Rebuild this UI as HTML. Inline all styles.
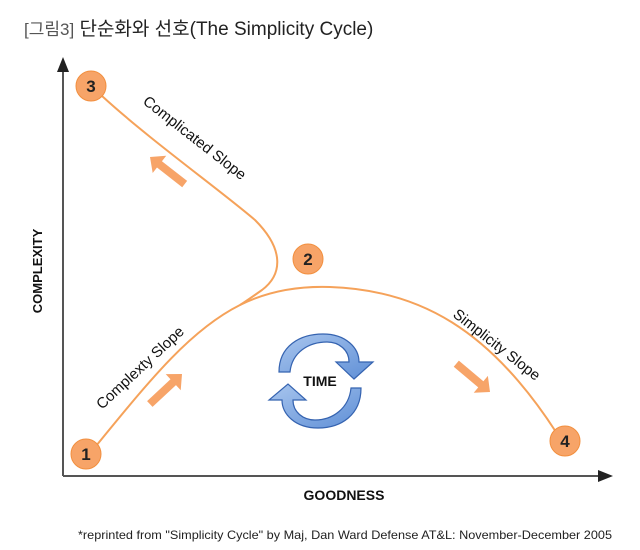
<!DOCTYPE html>
<html><head><meta charset="utf-8"><style>
html,body{margin:0;padding:0;background:#fff;}
svg{display:block;}
text{font-family:"Liberation Sans","Noto Sans CJK KR",sans-serif;}
</style></head><body>
<svg width="640" height="550" viewBox="0 0 640 550" xmlns="http://www.w3.org/2000/svg">
<defs>
<linearGradient id="bg" x1="0" y1="0" x2="1" y2="1">
<stop offset="0" stop-color="#a9c6ee"/><stop offset="1" stop-color="#5f8fd6"/>
</linearGradient>
</defs>
<text x="24" y="35" font-size="19" fill="#222"><tspan fill="#555" font-size="17">[그림3]</tspan> 단순화와 선호(The Simplicity Cycle)</text>
<line x1="63" y1="68" x2="63" y2="476" stroke="#555" stroke-width="2"/>
<polygon points="63,57 57,72 69,72" fill="#222"/>
<line x1="63" y1="476" x2="600" y2="476" stroke="#555" stroke-width="2"/>
<polygon points="613,476 598,470 598,482" fill="#222"/>
<text x="42" y="271" font-size="13" font-weight="bold" fill="#111" text-anchor="middle" transform="rotate(-90 42 271)">COMPLEXITY</text>
<text x="344" y="500" font-size="14" font-weight="bold" fill="#111" text-anchor="middle">GOODNESS</text>
<text x="345" y="539" font-size="12" fill="#222" text-anchor="middle" textLength="534" lengthAdjust="spacingAndGlyphs">*reprinted from "Simplicity Cycle" by Maj, Dan Ward Defense AT&amp;L: November-December 2005</text>
<g fill="none" stroke="#f5a25a" stroke-width="2">
<path d="M96,446 C150,380 190,330 240,305 C270,290 300,286 330,287 C420,290 490,330 556,432"/>
<path d="M102,96 C150,140 220,190 255,220 C285,250 282,275 262,290 C252,297 245,302 240,305"/>
</g>
<g fill="#f7a468">
<g transform="translate(150,157) rotate(38)"><polygon points="0,0 12,-11 12,-4 44,-4 44,4 12,4 12,11"/></g>
<g transform="translate(182,374) rotate(137)"><polygon points="0,0 12,-11 12,-4 44,-4 44,4 12,4 12,11"/></g>
<g transform="translate(490,392) rotate(220)"><polygon points="0,0 12,-11 12,-4 44,-4 44,4 12,4 12,11"/></g>
</g>
<text x="142" y="103" font-size="15" fill="#111" transform="rotate(38 142 103)">Complicated Slope</text>
<text x="102" y="410" font-size="15" fill="#111" transform="rotate(-43 102 410)">Complexty Slope</text>
<text x="452" y="316" font-size="15" fill="#111" transform="rotate(38 452 316)">Simplicity Slope</text>
<g fill="#f7a468" stroke="#f28f3e" stroke-width="1">
<circle cx="91" cy="86" r="15"/><circle cx="308" cy="259" r="15"/>
<circle cx="86" cy="454" r="15"/><circle cx="565" cy="441" r="15"/>
</g>
<g font-size="17" font-weight="bold" fill="#222" text-anchor="middle">
<text x="91" y="92">3</text><text x="308" y="265">2</text>
<text x="86" y="460">1</text><text x="565" y="447">4</text>
</g>
<g fill="url(#bg)" stroke="#3563b0" stroke-width="1.2">
<path d="M279,372 C279,346 300,334 323,334 C346,334 359,348 359,362 L373,362 L354,379 L336,362 L349,362 C349,350 339,342 327,342 C309,342 292,352 290,372 Z"/>
<path d="M361,388 C361,415 341,428 318,428 C295,428 282,414 282,400 L269,400 L288,384 L306,400 L293,400 C293,412 303,420 315,420 C333,420 349,408 351,388 Z"/>
</g>
<text x="320" y="386" font-size="14" font-weight="bold" fill="#111" text-anchor="middle">TIME</text>
</svg>
</body></html>
